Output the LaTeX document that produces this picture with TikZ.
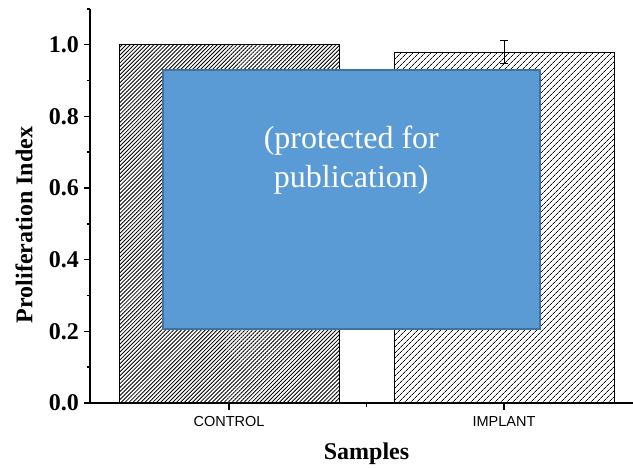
\documentclass[tikz,border=0pt]{standalone}
\usepackage{fontspec}
\setmainfont{Liberation Serif}
\newfontfamily\catfont{Liberation Sans}
\usepackage{tikz}
\usetikzlibrary{patterns.meta}
\usepackage{xcolor}
\definecolor{maskblue}{HTML}{5B9BD5}
\definecolor{maskedge}{HTML}{41719C}

\begin{document}
\begin{tikzpicture}[x=1pt, y=1pt, axis/.style={line width=1.4pt}, bar/.style={draw, line width=0.8pt}, ticklab/.style={anchor=east, inner sep=0pt, font=\fontsize{24}{28}\selectfont\bfseries}, cat/.style={font=\catfont\fontsize{14.5}{17}\selectfont}, title/.style={font=\fontsize{24}{28}\selectfont\bfseries}]
\useasboundingbox (0,0) rectangle (633,468);
% bars
\draw[bar, pattern={Lines[angle=45, distance=2.8pt, line width=0.85pt]}] (119.3,65) rectangle (339.3,423.3);
\draw[bar, pattern={Lines[angle=45, distance=4pt, line width=0.7pt]}] (394,65) rectangle (614,415.8);
% error bar
\coordinate (errtop) at (504,427.3);
\coordinate (errbot) at (504,404.7);
\draw[line width=0.8pt] (errbot) -- (errtop);
\draw[line width=0.8pt] ([xshift=-3.8pt]errtop) -- ([xshift=3.8pt]errtop);
\draw[line width=0.8pt] ([xshift=-3.8pt]errbot) -- ([xshift=3.8pt]errbot);
% axes
\coordinate (origin) at (90,65);
\draw[axis] (90,459) -- (origin) -- (633,65);
\foreach \v in {0.0,0.2,0.4,0.6,0.8,1.0} {
  \draw[axis] (84,65+358.3*\v) -- (90,65+358.3*\v);
  \node[ticklab] at (79,65+358.3*\v) {\v};
}
\foreach \v in {0.1,0.3,0.5,0.7,0.9,1.1}
  \draw[axis] (87,65+358.3*\v) -- (90,65+358.3*\v);
\draw[axis] (229,65) -- (229,58);
\draw[axis] (504,65) -- (504,58);
\draw[axis] (366.5,65) -- (366.5,61);
\node[cat] (control) at (229,46) {CONTROL};
\node[cat] (implant) at (504,46) {IMPLANT};
\node[title, anchor=base] (xtitle) at (366.5,8) {Samples};
\node[title, rotate=90] (ytitle) at (24,243) {Proliferation Index};
% mask
\draw[fill=maskblue, draw=maskedge, line width=2.2pt] (162.7,398) rectangle (540,138.7);
\node[align=center, text=white, font=\fontsize{32}{39}\selectfont] (mask) at (351.3,308) {(protected for\\publication)};
\end{tikzpicture}
\end{document}
